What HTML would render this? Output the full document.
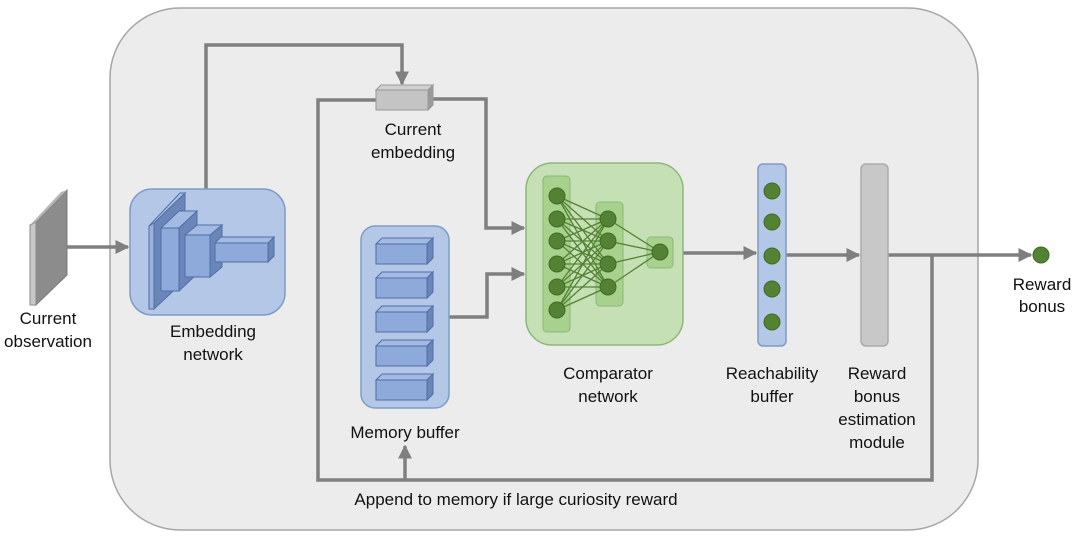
<!DOCTYPE html>
<html><head><meta charset="utf-8"><style>
html,body{margin:0;padding:0;background:#fff;}
svg{display:block;}
text{font-family:"Liberation Sans",sans-serif;font-size:17px;fill:#111;text-anchor:middle;}
</style></head><body>
<svg width="1080" height="540" viewBox="0 0 1080 540" xmlns="http://www.w3.org/2000/svg">
<defs>
<marker id="ar" viewBox="0 0 10 10" refX="9" refY="5" markerWidth="4" markerHeight="4" orient="auto" markerUnits="strokeWidth"><path d="M0,0 L10,5 L0,10 z" fill="#7f7f7f"/></marker>
</defs>
<rect x="110" y="8" width="868" height="522" rx="70" fill="#ececec" stroke="#a6a6a6" stroke-width="1.5"/>

<!-- observation -->
<polygon points="36,222 67,190 67,275 36,305" fill="#8c8c8c" stroke="#7a7a7a"/>
<polygon points="30,225 36,222 36,305 30,305" fill="#c8c8c8" stroke="#8a8a8a"/>
<polygon points="30,225 61,192 67,190 36,222" fill="#b5b5b5"/>
<line x1="67" y1="247" x2="128" y2="247" stroke="#7f7f7f" stroke-width="3.5" marker-end="url(#ar)"/>

<!-- connectors -->
<g stroke="#7f7f7f" stroke-width="3.5" fill="none">
<polyline points="206,189 206,45 402,45 402,84" marker-end="url(#ar)"/>
<polyline points="376,100 318,100 318,480 932,480 932,254"/>
<polyline points="430,99 486,99 486,228 524,228" marker-end="url(#ar)"/>
<polyline points="449,317 487,317 487,274 524,274" marker-end="url(#ar)"/>
<line x1="405" y1="480" x2="405" y2="446" marker-end="url(#ar)"/>
<line x1="683" y1="253" x2="756" y2="253" marker-end="url(#ar)"/>
<line x1="786" y1="255" x2="859" y2="255" marker-end="url(#ar)"/>
<line x1="888" y1="255" x2="1031" y2="255" marker-end="url(#ar)"/>
</g>

<!-- current embedding -->
<polygon points="376,90 381,85 433,85 428,90" fill="#d0d0d0" stroke="#999"/>
<polygon points="428,90 433,85 433,105 428,110" fill="#9a9a9a" stroke="#999"/>
<rect x="376" y="90" width="52" height="20" fill="#c4c4c4" stroke="#999"/>

<!-- embedding network -->
<rect x="130" y="189" width="155" height="126" rx="22" fill="#b4c7e7" stroke="#7f9cc7" stroke-width="1.5"/>
<g stroke="#4f6fa5" stroke-width="1">
<polygon points="154,223 185,193 185,280 154,309" fill="#6a86b8"/>
<polygon points="149,226 180,193 185,193 154,223" fill="#a9bfe4"/>
<polygon points="149,226 154,223 154,309 149,309" fill="#9bb3dc"/>
<polygon points="179,228 197,211 197,274 179,291" fill="#6a86b8"/>
<polygon points="161,228 179,211 197,211 179,228" fill="#a3bae2"/>
<rect x="161" y="228" width="18" height="63" fill="#8eaadb"/>
<polygon points="210,235 222,225 222,267 210,277" fill="#6a86b8"/>
<polygon points="185,235 197,225 222,225 210,235" fill="#a3bae2"/>
<rect x="185" y="235" width="25" height="42" fill="#8eaadb"/>
<polygon points="268,243 274,237 274,256 268,262" fill="#6a86b8"/>
<polygon points="215,243 221,237 274,237 268,243" fill="#a3bae2"/>
<rect x="215" y="243" width="53" height="19" fill="#8eaadb"/>
</g>

<!-- memory buffer -->
<rect x="361" y="226" width="88" height="182" rx="14" fill="#b4c7e7" stroke="#7f9cc7" stroke-width="1.5"/>
<g stroke="#4f6fa5" stroke-width="1">
<g id="mb">
<polygon points="376,244 382,238 433,238 427,244" fill="#a3bae2"/>
<polygon points="427,244 433,238 433,258 427,264" fill="#6a86b8"/>
<rect x="376" y="244" width="51" height="20" fill="#8eaadb"/>
</g>
<use href="#mb" y="34"/><use href="#mb" y="68"/><use href="#mb" y="102"/><use href="#mb" y="136"/>
</g>

<!-- comparator -->
<rect x="526" y="163" width="157" height="182" rx="26" fill="#c5e0b4" stroke="#8cb87a" stroke-width="1.5"/>
<rect x="543" y="176" width="27" height="156" rx="4" fill="#a9d18e" stroke="#8cb87a"/>
<rect x="596" y="202" width="27" height="104" rx="4" fill="#a9d18e" stroke="#8cb87a"/>
<rect x="647" y="237" width="26" height="31" rx="4" fill="#a9d18e" stroke="#8cb87a"/>
<g stroke="#548235" stroke-width="1.3">
<line x1="557" y1="196" x2="608" y2="219"/><line x1="557" y1="196" x2="608" y2="241"/><line x1="557" y1="196" x2="608" y2="264"/><line x1="557" y1="196" x2="608" y2="287"/>
<line x1="557" y1="219" x2="608" y2="219"/><line x1="557" y1="219" x2="608" y2="241"/><line x1="557" y1="219" x2="608" y2="264"/><line x1="557" y1="219" x2="608" y2="287"/>
<line x1="557" y1="241" x2="608" y2="219"/><line x1="557" y1="241" x2="608" y2="241"/><line x1="557" y1="241" x2="608" y2="264"/><line x1="557" y1="241" x2="608" y2="287"/>
<line x1="557" y1="264" x2="608" y2="219"/><line x1="557" y1="264" x2="608" y2="241"/><line x1="557" y1="264" x2="608" y2="264"/><line x1="557" y1="264" x2="608" y2="287"/>
<line x1="557" y1="287" x2="608" y2="219"/><line x1="557" y1="287" x2="608" y2="241"/><line x1="557" y1="287" x2="608" y2="264"/><line x1="557" y1="287" x2="608" y2="287"/>
<line x1="557" y1="310" x2="608" y2="219"/><line x1="557" y1="310" x2="608" y2="241"/><line x1="557" y1="310" x2="608" y2="264"/><line x1="557" y1="310" x2="608" y2="287"/>
<line x1="608" y1="219" x2="660" y2="252"/><line x1="608" y1="241" x2="660" y2="252"/><line x1="608" y1="264" x2="660" y2="252"/><line x1="608" y1="287" x2="660" y2="252"/>
</g>
<g fill="#548235" stroke="#3f6b26" stroke-width="1">
<circle cx="557" cy="196" r="8"/><circle cx="557" cy="219" r="8"/><circle cx="557" cy="241" r="8"/><circle cx="557" cy="264" r="8"/><circle cx="557" cy="287" r="8"/><circle cx="557" cy="310" r="8"/>
<circle cx="608" cy="219" r="8"/><circle cx="608" cy="241" r="8"/><circle cx="608" cy="264" r="8"/><circle cx="608" cy="287" r="8"/>
<circle cx="660" cy="252" r="8"/>
</g>

<!-- reachability -->
<rect x="758" y="164" width="28" height="182" rx="5" fill="#b4c7e7" stroke="#7f9cc7" stroke-width="1.5"/>
<g fill="#548235" stroke="#3f6b26">
<circle cx="772" cy="191" r="8"/><circle cx="772" cy="222" r="8"/><circle cx="772" cy="256" r="8"/><circle cx="772" cy="289" r="8"/><circle cx="772" cy="322" r="8"/>
<circle cx="1041" cy="255" r="8"/>
</g>
<rect x="861" y="164" width="27" height="182" rx="5" fill="#c8c8c8" stroke="#ababab" stroke-width="1.5"/>

<!-- labels -->
<text x="48" y="324">Current</text><text x="48" y="347">observation</text>
<text x="213" y="337">Embedding</text><text x="213" y="360">network</text>
<text x="413" y="135">Current</text><text x="413" y="158">embedding</text>
<text x="405" y="438">Memory buffer</text>
<text x="608" y="379">Comparator</text><text x="608" y="402">network</text>
<text x="772" y="379">Reachability</text><text x="772" y="402">buffer</text>
<text x="877" y="379">Reward</text><text x="877" y="402">bonus</text><text x="877" y="425">estimation</text><text x="877" y="448">module</text>
<text x="1042" y="290">Reward</text><text x="1042" y="312">bonus</text>
<text x="516" y="505">Append to memory if large curiosity reward</text>
</svg>
</body></html>
